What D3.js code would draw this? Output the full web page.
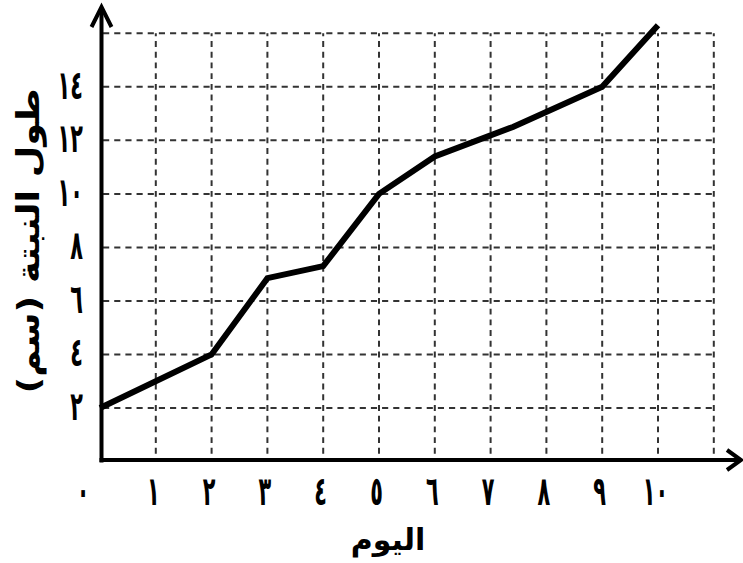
<!DOCTYPE html>
<html><head><meta charset="utf-8">
<script src="https://cdn.jsdelivr.net/npm/d3@7"></script>
<style>
html,body{margin:0;padding:0;background:#fff;}
svg{display:block;}
text{font-family:"DejaVu Sans",sans-serif;font-weight:bold;fill:#000;}
</style></head>
<body>
<svg id="chart" width="743" height="563"></svg>
<script>
// ---- data ----
const days = [0, 2, 3, 4, 5, 6, 7.4, 9, 10];
const heights = [2, 4, 6.85, 7.3, 10, 11.4, 12.5, 14, 16.3];
const xTickValues = [0,1,2,3,4,5,6,7,8,9,10];
const xTickLabels = ["٠","١","٢","٣","٤","٥","٦","٧","٨","٩","١٠"];
const yTickValues = [2,4,6,8,10,12,14];
const yTickLabels = ["٢","٤","٦","٨","١٠","١٢","١٤"];
const xTitle = "اليوم";
const yTitle = "طول النبتة (سم)";

const svg = d3.select("#chart");
const x = d3.scaleLinear().domain([0, 11]).range([100, 713.8]);
const y = d3.scaleLinear().domain([0, 16]).range([461.5, 33.3]);

// ---- grid ----
const grid = svg.append("g");
const gridX = d3.range(1, 12);
const gridY = d3.range(2, 17, 2);
const cellW = x(1) - x(0), cellH = y(0) - y(2);
gridY.forEach(v => {
  grid.append("line")
    .attr("x1", x(0)).attr("x2", x(11)).attr("y1", y(v)).attr("y2", y(v))
    .attr("stroke", "#333").attr("stroke-width", 2)
    .attr("stroke-dasharray", `${cellW/5*0.55},${cellW/5*0.45}`)
    .attr("stroke-dashoffset", -cellW/5*0.55*0.5);
});
gridX.forEach(v => {
  grid.append("line")
    .attr("x1", x(v)).attr("x2", x(v)).attr("y1", y(16)).attr("y2", y(0))
    .attr("stroke", "#333").attr("stroke-width", 2)
    .attr("stroke-dasharray", `${cellH/5*0.55},${cellH/5*0.45}`)
    .attr("stroke-dashoffset", cellH/5*0.55*0.5);
});

// ---- line ----
const pts = days.map((d, i) => [d, heights[i]]);
svg.append("path")
  .datum(pts)
  .attr("fill", "none")
  .attr("stroke", "#000")
  .attr("stroke-width", 6)
  .attr("stroke-linejoin", "miter")
  .attr("d", d3.line().x(d => x(d[0])).y(d => y(d[1])));

// ---- axes lines with arrows ----
const ax = svg.append("g").attr("fill", "none").attr("stroke", "#000").attr("stroke-width", 4);
ax.append("line").attr("x1", x(0) + 1.5).attr("x2", x(0) + 1.5).attr("y1", y(0) + 1).attr("y2", 8);
ax.append("polyline").attr("points", `${x(0)-8.5},27 ${x(0)+1.5},7 ${x(0)+11.5},27`);
ax.append("line").attr("x1", x(0) - 0.5).attr("x2", 740).attr("y1", y(0) - 1.5).attr("y2", y(0) - 1.5);
ax.append("polyline").attr("points", `727,${y(0)-11.5} 741,${y(0)-1.5} 727,${y(0)+8.5}`);

// ---- tick labels via d3 axes ----
const xAxis = d3.axisBottom(x).tickValues(xTickValues).tickSize(0).tickPadding(0)
  .tickFormat((d, i) => xTickLabels[i]);
const gx = svg.append("g").attr("transform", `translate(-3,494)`).call(xAxis);
gx.select(".domain").remove();
gx.selectAll("text").attr("font-size", 26).attr("font-family", "DejaVu Sans").attr("font-weight", "bold")
  .attr("y", 0).attr("dy", "0.28em").attr("transform", "scale(0.8,1.55)");
gx.selectAll(".tick").filter(d => d === 0).select("text").attr("dx", -18);

const yAxis = d3.axisLeft(y).tickValues(yTickValues).tickSize(0).tickPadding(0)
  .tickFormat((d, i) => yTickLabels[i]);
const gy = svg.append("g").attr("transform", `translate(83,0)`).call(yAxis);
gy.select(".domain").remove();
gy.selectAll("text").attr("font-size", 26).attr("font-family", "DejaVu Sans").attr("font-weight", "bold")
  .attr("x", 0).attr("dy", "0.28em").attr("transform", "scale(0.8,1.55)");

// ---- titles ----
svg.append("text")
  .attr("x", 388).attr("y", 550)
  .attr("text-anchor", "middle").attr("direction", "rtl")
  .attr("font-size", 30)
  .text(xTitle);
svg.append("text")
  .attr("transform", "translate(39,241) rotate(-90)")
  .attr("text-anchor", "middle").attr("direction", "rtl")
  .attr("font-size", 31)
  .attr("textLength", 305).attr("lengthAdjust", "spacingAndGlyphs")
  .text(yTitle);
</script>
</body></html>
